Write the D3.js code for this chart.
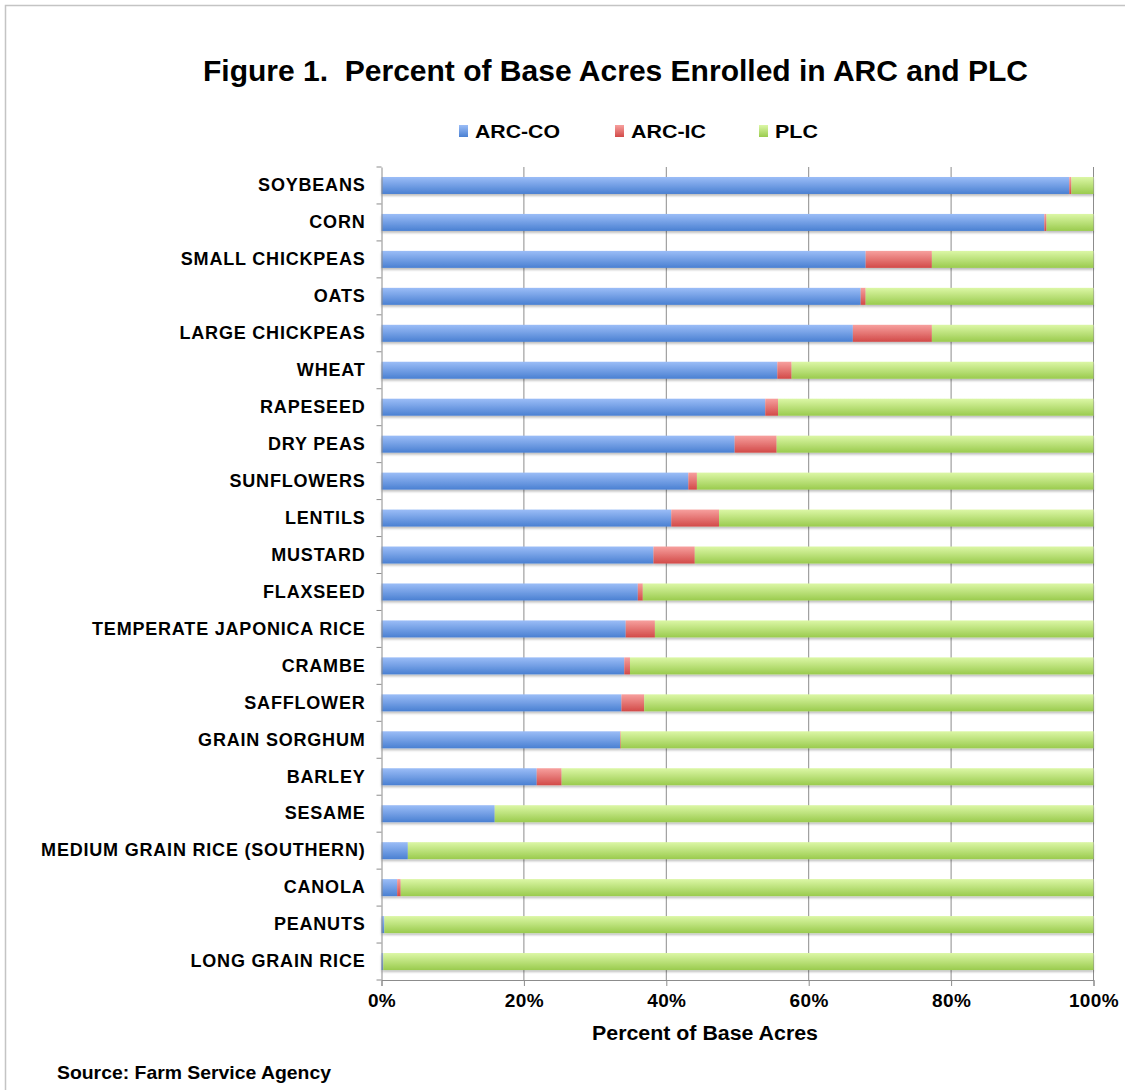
<!DOCTYPE html>
<html>
<head>
<meta charset="utf-8">
<script src="https://cdn.jsdelivr.net/npm/d3@7"></script>
<style>
  body { margin: 0; background: #fff; }
  text { font-family: "Liberation Sans", Arial, sans-serif; font-weight: bold; fill: #000; }
</style>
</head>
<body>
<svg id="chart" width="1125" height="1090"></svg>
<script>
// crops, top to bottom as in the figure
const crops = [
  "SOYBEANS", "CORN", "SMALL CHICKPEAS", "OATS", "LARGE CHICKPEAS", "WHEAT",
  "RAPESEED", "DRY PEAS", "SUNFLOWERS", "LENTILS", "MUSTARD", "FLAXSEED",
  "TEMPERATE JAPONICA RICE", "CRAMBE", "SAFFLOWER", "GRAIN SORGHUM", "BARLEY",
  "SESAME", "MEDIUM GRAIN RICE (SOUTHERN)", "CANOLA", "PEANUTS", "LONG GRAIN RICE"
]
// percent of base acres
const arcCo = [96.6, 93.1, 68.0, 67.3, 66.2, 55.6, 53.9, 49.6, 43.1, 40.7, 38.2, 36.0,
               34.3, 34.1, 33.7, 33.5, 21.8, 15.9, 3.7, 2.2, 0.4, 0.25]
const arcIc = [0.3, 0.3, 9.3, 0.7, 11.1, 2.0, 1.8, 5.9, 1.2, 6.7, 5.8, 0.7,
               4.1, 0.8, 3.2, 0.1, 3.5, 0, 0, 0.5, 0, 0]
const plc = arcCo.map((d, i) => 100 - d - arcIc[i])  // remainder of each bar

const seriesNames = ["ARC-CO", "ARC-IC", "PLC"]
const xTicks = [0, 20, 40, 60, 80, 100]

const colors = {
  "ARC-CO": ["#9bbdf7", "#4a80d2"],
  "ARC-IC": ["#f7a09e", "#d24a48"],
  "PLC":    ["#dcf7a6", "#9acb4e"]
}

const svg = d3.select("#chart")

// the original text is a little wider than Arial, so stretch it to the width it had
function fit(sel, w) {
  sel.attr("textLength", w).attr("lengthAdjust", "spacingAndGlyphs")
}

// outer frame
svg.append("rect")
  .attr("x", 5.5).attr("y", 5.5)
  .attr("width", 1125).attr("height", 1100)
  .attr("fill", "none").attr("stroke", "#c4c4c4").attr("stroke-width", 1.5)

const margin = {left: 381.5, right: 1093.5, top: 167, bottom: 980}

const x = d3.scaleLinear().domain([0, 100]).range([margin.left, margin.right])
const y = d3.scaleBand().domain(crops).range([margin.top, margin.bottom]).paddingInner(0.54).paddingOuter(0.27)

// gradients, lighter at the top of each bar
const defs = svg.append("defs")
seriesNames.forEach((s, i) => {
  const g = defs.append("linearGradient")
    .attr("id", "grad" + i).attr("x1", 0).attr("y1", 0).attr("x2", 0).attr("y2", 1)
  g.append("stop").attr("offset", "0%").attr("stop-color", colors[s][0])
  g.append("stop").attr("offset", "100%").attr("stop-color", colors[s][1])
})
const shadow = defs.append("filter").attr("id", "shadow")
  .attr("x", "-5%").attr("y", "-20%").attr("width", "110%").attr("height", "160%")
shadow.append("feDropShadow").attr("dx", 0).attr("dy", 2).attr("stdDeviation", 1.2)
  .attr("flood-color", "#000").attr("flood-opacity", 0.25)

// gridlines
svg.append("g")
  .selectAll("line")
  .data(xTicks.slice(1))
  .join("line")
  .attr("x1", d => x(d)).attr("x2", d => x(d))
  .attr("y1", margin.top).attr("y2", margin.bottom)
  .attr("stroke", "#8c8c8c").attr("stroke-width", 1)

// stacked bars
const rows = crops.map((c, i) => ({crop: c, "ARC-CO": arcCo[i], "ARC-IC": arcIc[i], "PLC": plc[i]}))
const stacked = d3.stack().keys(seriesNames)(rows)

const layers = svg.append("g").attr("filter", "url(#shadow)")
  .selectAll("g")
  .data(stacked)
  .join("g")
  .attr("fill", (d, i) => "url(#grad" + i + ")")

layers.selectAll("rect")
  .data(d => d)
  .join("rect")
  .attr("x", d => x(d[0]))
  .attr("width", d => Math.max(0, x(d[1]) - x(d[0])))
  .attr("y", d => y(d.data.crop))
  .attr("height", y.bandwidth())

// y axis
const yAxis = d3.axisLeft(y).tickSize(0).tickPadding(16)
const yg = svg.append("g").attr("transform", `translate(${margin.left},0)`).call(yAxis)
yg.select(".domain").attr("stroke", "#8c8c8c")
yg.selectAll(".tick text")
  .style("font-size", "18px").style("letter-spacing", "0.8px").attr("fill", "#000")

// band-edge tick marks on the y axis
const step = y.step()
svg.append("g")
  .selectAll("line")
  .data(d3.range(crops.length + 1))
  .join("line")
  .attr("x1", margin.left - 5).attr("x2", margin.left)
  .attr("y1", d => margin.top + d * step).attr("y2", d => margin.top + d * step)
  .attr("stroke", "#8c8c8c")

// x axis
const xAxis = d3.axisBottom(x).tickValues(xTicks).tickFormat(d => d + "%").tickSize(6).tickPadding(8)
const xg = svg.append("g").attr("transform", `translate(0,${margin.bottom})`).call(xAxis)
xg.select(".domain").attr("stroke", "#8c8c8c")
xg.selectAll(".tick line").attr("stroke", "#8c8c8c")
xg.selectAll(".tick text").style("font-size", "19px").style("letter-spacing", "0.4px").attr("fill", "#000")

// axis title
svg.append("text")
  .attr("x", 705).attr("y", 1040)
  .attr("text-anchor", "middle")
  .style("font-size", "20px")
  .text("Percent of Base Acres")
  .call(fit, 226)

// title
svg.append("text")
  .attr("x", 615.5).attr("y", 81)
  .attr("text-anchor", "middle")
  .style("font-size", "29px")
  .text("Figure 1.\u00a0\u00a0Percent of Base Acres Enrolled in ARC and PLC")
  .call(fit, 825)

// legend
const legendX = [459, 615, 759]
const legendW = [85, 75, 43]
const legend = svg.append("g")
  .selectAll("g")
  .data(seriesNames)
  .join("g")
  .attr("transform", (d, i) => `translate(${legendX[i]},125)`)
legend.append("rect")
  .attr("width", 9).attr("height", 12)
  .attr("fill", (d, i) => "url(#grad" + i + ")")
legend.append("text")
  .attr("x", 16).attr("y", 12.5)
  .style("font-size", "18px")
  .text(d => d)
  .each(function(d, i) { d3.select(this).call(fit, legendW[i]) })

// source note
svg.append("text")
  .attr("x", 57).attr("y", 1079)
  .style("font-size", "19px")
  .text("Source: Farm Service Agency")
  .call(fit, 274)
</script>
</body>
</html>
